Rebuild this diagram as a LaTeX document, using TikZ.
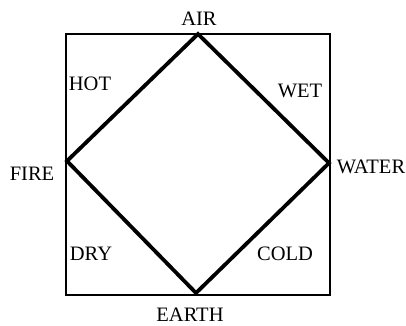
\documentclass[tikz,border=0pt]{standalone}
\usepackage{fontspec}
\setmainfont{Liberation Serif}
\begin{document}
\begin{tikzpicture}[x=1pt,y=-1pt,
  lbl/.style={inner sep=0pt, font=\fontsize{20.5}{22}\selectfont},
  frame/.style={line width=1.1pt, black},
  edge/.style={line width=3.8pt, black, line join=miter, line cap=round}]
\useasboundingbox (0,0) rectangle (406,325);
\coordinate (tl) at (66,34);
\coordinate (br) at (330,295);
\draw[frame] (tl) rectangle (br);
\coordinate (air) at (198,34);
\coordinate (water) at (329,163);
\coordinate (earth) at (196,293);
\coordinate (fire) at (67,161);
\draw[edge] (air) -- (water) -- (earth) -- (fire) -- cycle;
\node[lbl] (lair) at (199,19) {AIR};
\node[lbl] (lwater) at (371,167) {WATER};
\node[lbl] (learth) at (190,314.5) {EARTH};
\node[lbl] (lfire) at (32,174) {FIRE};
\node[lbl] (lhot) at (90,84) {HOT};
\node[lbl] (lwet) at (300,91) {WET};
\node[lbl] (ldry) at (91,254) {DRY};
\node[lbl] (lcold) at (285,254) {COLD};
\end{tikzpicture}
\end{document}
